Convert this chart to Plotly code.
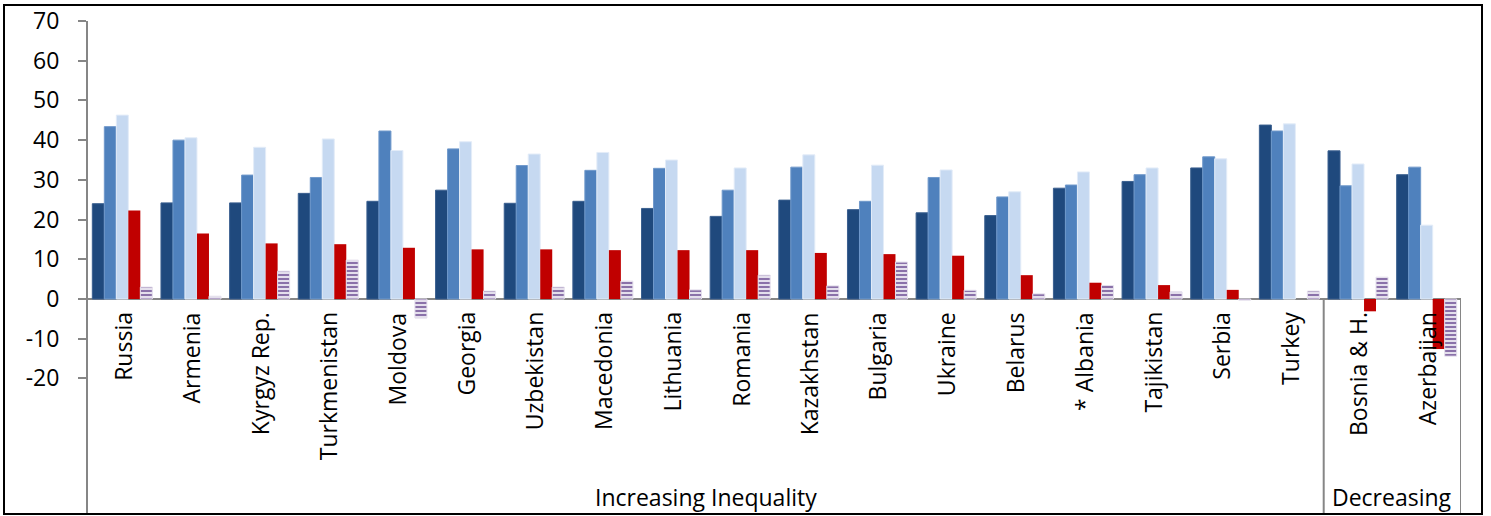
import plotly.graph_objects as go

# Countries grouped by inequality trend
countries = ["Russia", "Armenia", "Kyrgyz Rep.", "Turkmenistan", "Moldova", "Georgia",
             "Uzbekistan", "Macedonia", "Lithuania", "Romania", "Kazakhstan", "Bulgaria",
             "Ukraine", "Belarus", "* Albania", "Tajikistan", "Serbia", "Turkey",
             "Bosnia & H.", "Azerbaijan"]
group_names = ["Increasing Inequality", "Decreasing"]
group_sizes = [18, 2]

series_a = [24.0, 24.2, 24.2, 26.6, 24.6, 27.4, 24.1, 24.6, 22.8, 20.8, 24.9, 22.5,
            21.7, 21.0, 27.9, 29.6, 33.0, 43.8, 37.3, 31.3]
series_b = [43.4, 40.0, 31.2, 30.6, 42.3, 37.8, 33.6, 32.4, 32.9, 27.4, 33.2, 24.6,
            30.6, 25.7, 28.7, 31.3, 35.8, 42.3, 28.5, 33.2]
series_c = [46.3, 40.6, 38.2, 40.3, 37.4, 39.6, 36.5, 36.9, 35.0, 33.0, 36.3, 33.7,
            32.5, 27.0, 32.0, 33.0, 35.3, 44.1, 34.0, 18.6]
series_d = [22.3, 16.5, 14.0, 13.8, 12.9, 12.5, 12.5, 12.3, 12.3, 12.3, 11.6, 11.3,
            10.9, 6.0, 4.1, 3.5, 2.3, 0.0, -3.1, -12.6]
series_e = [3.0, 0.7, 7.0, 9.8, -4.8, 2.0, 3.0, 4.5, 2.3, 6.0, 3.3, 9.3,
            2.2, 1.3, 3.4, 1.8, -0.3, 2.0, 5.5, -14.4]

y_ticks = [-20, -10, 0, 10, 20, 30, 40, 50, 60, 70]

FONT = "Open Sans"
FONT_SIZE = 23
AXIS_GRAY = "#868686"

fig = go.Figure()
solid = [
    ("series_a", series_a, "#1F497D", "#3A5F8F", 1),
    ("series_b", series_b, "#4F81BD", "#7099CB", 1),
    ("series_c", series_c, "#C6D9F1", "#E3ECF8", 1),
    ("series_d", series_d, "#C00000", "#C00000", 0),
]
for name, vals, color, edge, lw in solid:
    fig.add_trace(go.Bar(x=countries, y=vals, name=name, marker_color=color,
                         marker_line=dict(width=lw, color=edge)))
fig.add_trace(go.Bar(
    x=countries, y=series_e, name="series_e",
    marker=dict(color="#E4DFEC", line=dict(width=1, color="#E4DFEC"),
                pattern=dict(shape="-", fgcolor="#8064A2", bgcolor="#E4DFEC",
                             size=4, solidity=0.45, fillmode="replace")),
))

# Pixel layout of the plot area
W, H = 1491, 516
left, right, top, bottom = 88, 30, 21, 1
plot_h = H - top - bottom
zero_px = 299
ymin = 70 - 70 * plot_h / (zero_px - top)

annotations = []
for c in countries:
    annotations.append(dict(x=c, y=0, xref="x", yref="y", text=c, showarrow=False,
                            textangle=-90, xanchor="center", yanchor="top", yshift=-11,
                            font=dict(family=FONT, size=FONT_SIZE, color="#000000")))
start = 0
shapes = []
for gname, n in zip(group_names, group_sizes):
    center = start + (n - 1) / 2
    annotations.append(dict(x=center, y=0, xref="x", yref="paper", text=gname,
                            showarrow=False, xanchor="center", yanchor="bottom", yshift=0,
                            font=dict(family=FONT, size=FONT_SIZE, color="#000000")))
    end = start + n - 0.5
    shapes.append(dict(type="line", xref="x", yref="y", x0=end, x1=end, y0=0, y1=ymin,
                       line=dict(color=AXIS_GRAY, width=2)))
    start += n

# Outer chart frame
plot_w = W - left - right
def px_x(p):
    return (p - left) / plot_w
def px_y(q):
    return (H - bottom - q) / plot_h
shapes.append(dict(type="rect", xref="paper", yref="paper",
                   x0=px_x(4), x1=px_x(1482), y0=px_y(514), y1=px_y(5),
                   line=dict(color="#000000", width=2), fillcolor="rgba(0,0,0,0)"))

fig.update_layout(
    width=W, height=H,
    margin=dict(l=left, r=right, t=top, b=bottom, pad=0),
    paper_bgcolor="white", plot_bgcolor="white",
    barmode="group", bargap=0.126, bargroupgap=0,
    showlegend=False,
    font=dict(family=FONT, size=FONT_SIZE, color="#000000"),
    xaxis=dict(type="category", range=[-0.5, len(countries) - 0.5], showticklabels=False,
               showline=False, showgrid=False, zeroline=False, ticks=""),
    yaxis=dict(range=[ymin, 70], tickvals=y_ticks, ticktext=[str(v) for v in y_ticks],
               showgrid=False, showline=True, linecolor=AXIS_GRAY, linewidth=2,
               ticks="outside", ticklen=8, tickwidth=2, tickcolor=AXIS_GRAY,
               ticklabelstandoff=14,
               zeroline=True, zerolinecolor=AXIS_GRAY, zerolinewidth=2,
               tickfont=dict(family=FONT, size=FONT_SIZE, color="#000000")),
    annotations=annotations,
    shapes=shapes,
)

fig.write_html("out.html")
